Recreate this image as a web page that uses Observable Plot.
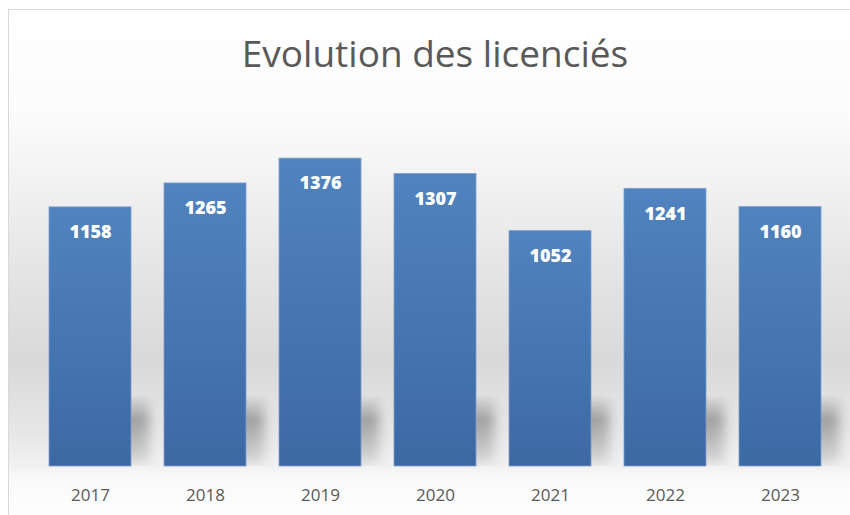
<!DOCTYPE html>
<html>
<head>
<meta charset="utf-8">
<script src="https://cdn.jsdelivr.net/npm/d3@7"></script>
<script src="https://cdn.jsdelivr.net/npm/@observablehq/plot@0.6"></script>
<style>
  html, body { margin: 0; padding: 0; background: #ffffff; }
  #wrap { position: relative; width: 850px; height: 515px; overflow: hidden; }
  #bg { position: absolute; left: 8px; top: 9px; width: 860px; height: 520px;
        border-left: 1px solid #d9d9d9; border-top: 1px solid #d9d9d9;
        background: linear-gradient(to bottom, #ffffff 0px, #fbfbfb 110px, #e6e6e6 250px, #d9d9d9 350px, #e6e6e6 420px, #f1f1f1 455px, #fafafa 470px, #ffffff 520px); }
  #title { position: absolute; left: 0; top: 27px; width: 870px; text-align: center;
           font-family: "Open Sans", sans-serif; font-size: 37px; color: #595959; margin: 0; font-weight: 400; }
  #chart { position: absolute; left: 0; top: 0; }
</style>
</head>
<body>
<div id="wrap">
  <div id="bg"></div>
  <div id="title">Evolution des licenciés</div>
  <div id="chart"></div>
</div>
<script>
const years = ["2017", "2018", "2019", "2020", "2021", "2022", "2023"];
const licencies = [1158, 1265, 1376, 1307, 1052, 1241, 1160];

const data = years.map((y, i) => ({year: y, value: licencies[i]}));

const plot = Plot.plot({
  width: 850,
  height: 515,
  marginTop: 108,
  marginBottom: 49,
  marginLeft: 31.5,
  marginRight: 11,
  style: {background: "transparent", fontFamily: "Open Sans, sans-serif"},
  x: {domain: years, paddingInner: 0.287, paddingOuter: 0.1435, label: null, tickSize: 0, tickPadding: 22},
  y: {domain: [0, 1600], axis: null},
  marks: [
    Plot.barY(data, {x: "year", y: "value", fill: "#8f8f8f", dx: 18, className: "shadow"}),
    Plot.barY(data, {x: "year", y: "value", fill: "url(#barGrad)", stroke: "#7f9fca", strokeWidth: 0.8}),
    Plot.text(data, {x: "year", y: "value", text: d => String(d.value), dy: 25,
      fill: "white", fontWeight: 800, fontSize: 18, fontFamily: "Open Sans, sans-serif"})
  ]
});

const svg = d3.select(plot);
const defs = svg.insert("defs", ":first-child");
const g = defs.append("linearGradient").attr("id", "barGrad").attr("x1", 0).attr("y1", 0).attr("x2", 0).attr("y2", 1);
g.append("stop").attr("offset", "0%").attr("stop-color", "#5083bf");
g.append("stop").attr("offset", "100%").attr("stop-color", "#3d69a3");
const f = defs.append("filter").attr("id", "blurF").attr("x", "-50%").attr("y", "-50%").attr("width", "200%").attr("height", "200%");
f.append("feGaussianBlur").attr("stdDeviation", 6);
const mg = defs.append("linearGradient").attr("id", "maskGrad").attr("gradientUnits", "userSpaceOnUse")
  .attr("x1", 0).attr("y1", 395).attr("x2", 0).attr("y2", 466);
mg.append("stop").attr("offset", "0%").attr("stop-color", "black");
mg.append("stop").attr("offset", "35%").attr("stop-color", "white").attr("stop-opacity", 0.85);
mg.append("stop").attr("offset", "100%").attr("stop-color", "white").attr("stop-opacity", 0.2);
const m = defs.append("mask").attr("id", "shadowMask").attr("maskUnits", "userSpaceOnUse");
m.append("rect").attr("x", 0).attr("y", 0).attr("width", 850).attr("height", 466).attr("fill", "url(#maskGrad)");
svg.selectAll("g.shadow").attr("filter", "url(#blurF)").attr("mask", "url(#shadowMask)").attr("opacity", 0.9);
svg.selectAll("g[aria-label='x-axis tick label']")
  .attr("font-size", 17).attr("fill", "#595959").style("font-size", "17px");

document.getElementById("chart").appendChild(plot);
</script>
</body>
</html>
